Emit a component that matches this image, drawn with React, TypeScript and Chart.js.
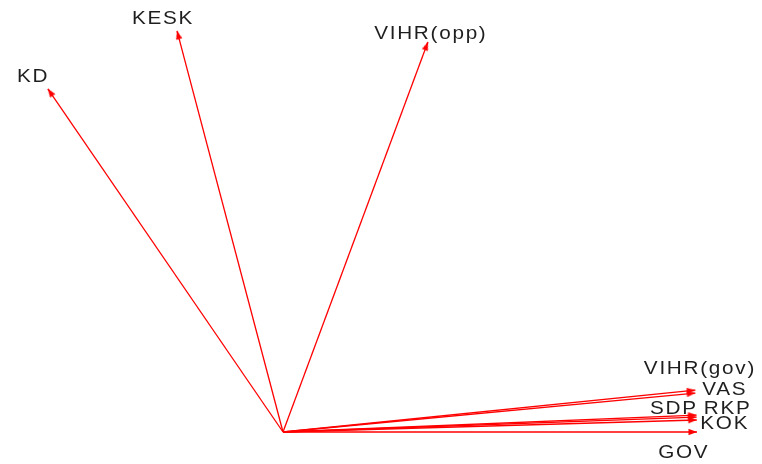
import React, { useEffect, useRef } from "react";
import { Chart, registerables } from "chart.js";

Chart.register(...registerables);

const names = ["KD", "KESK", "VIHR(opp)", "VIHR(gov)", "VAS", "SDP", "RKP", "KOK", "GOV"];
const loadX = [-0.568, -0.256, 0.35, 0.996, 0.996, 0.999, 0.999, 0.9995, 1.0];
const loadY = [0.829, 0.969, 0.942, 0.101, 0.094, 0.041, 0.036, 0.029, 0.0];
const labelX = [-0.606, -0.292, 0.355, 1.005, 1.065, 0.942, 1.072, 1.065, 0.966];
const labelY = [0.861, 1.002, 0.966, 0.157, 0.104, 0.060, 0.060, 0.024, -0.046];

const X_MIN = -0.6836;
const X_MAX = 1.157;
const Y_MIN = -0.0773;
const Y_MAX = 1.0435;

function makeArrowHead(): HTMLCanvasElement {
  const c = document.createElement("canvas");
  c.width = 20;
  c.height = 20;
  const ctx = c.getContext("2d")!;
  ctx.fillStyle = "#ff0000";
  ctx.beginPath();
  ctx.moveTo(10, 10);
  ctx.lineTo(6.8, 18.5);
  ctx.lineTo(13.2, 18.5);
  ctx.closePath();
  ctx.fill();
  return c;
}

const labelPlugin = {
  id: "vecLabels",
  afterDatasetsDraw(chart: any) {
    const { ctx, scales } = chart;
    const xs = scales.x;
    const ys = scales.y;
    const sx = 1.15;
    const sp = 1.5;
    ctx.save();
    ctx.font = '18px "Liberation Sans", Arial, sans-serif';
    (ctx as any).letterSpacing = sp + "px";
    ctx.fillStyle = "#1e1e1e";
    ctx.textBaseline = "alphabetic";
    ctx.textAlign = "left";
    names.forEach((n, i) => {
      const w = (ctx.measureText(n).width - sp) * sx;
      const px = xs.getPixelForValue(labelX[i]);
      const py = ys.getPixelForValue(labelY[i]);
      ctx.save();
      ctx.translate(px - w / 2, py + 6.5);
      ctx.scale(sx, 1);
      ctx.fillText(n, 0, 0);
      ctx.restore();
    });
    ctx.restore();
  },
};

export default function App() {
  const ref = useRef<HTMLCanvasElement | null>(null);

  useEffect(() => {
    document.body.style.margin = "0";
    const arrow = makeArrowHead();
    const datasets = names.map((n, i) => ({
      label: n,
      data: [
        { x: 0, y: 0 },
        { x: loadX[i], y: loadY[i] },
      ],
      showLine: true,
      borderColor: "#ff0000",
      borderWidth: 1.3,
      pointRadius: [0, 5],
      pointStyle: arrow,
      pointRotation: (ctx: any) => {
        const ch = ctx.chart;
        const xs = ch.scales.x;
        const ys = ch.scales.y;
        const ds = ctx.dataset.data;
        const dx = xs.getPixelForValue(ds[1].x) - xs.getPixelForValue(ds[0].x);
        const dy = ys.getPixelForValue(ds[1].y) - ys.getPixelForValue(ds[0].y);
        return (Math.atan2(dx, -dy) * 180) / Math.PI;
      },
    }));
    const chart = new Chart(ref.current!, {
      type: "scatter",
      data: { datasets },
      options: {
        animation: false,
        responsive: true,
        maintainAspectRatio: false,
        layout: { padding: 0, autoPadding: false },
        clip: false,
        plugins: { legend: { display: false }, tooltip: { enabled: false } },
        scales: {
          x: { type: "linear", min: X_MIN, max: X_MAX, display: false },
          y: { type: "linear", min: Y_MIN, max: Y_MAX, display: false },
        },
      },
      plugins: [labelPlugin],
    } as any);
    return () => chart.destroy();
  }, []);

  return (
    <div style={{ position: "relative", width: 762, height: 464, background: "#ffffff" }}>
      <canvas ref={ref} />
    </div>
  );
}
